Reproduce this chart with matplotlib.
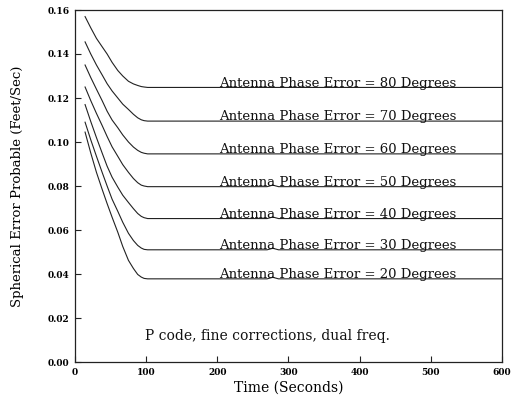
import numpy as np
import matplotlib
matplotlib.use('Agg')
from matplotlib import pyplot as plt

# phase error levels (degrees) and curve points
phase_err = [80, 70, 60, 50, 40, 30, 20]

t_pts = [14, 22, 30, 38, 45, 52, 60, 67, 75, 82, 88, 93, 97, 102, 270, 278, 286, 600]
sep = {
    80: [0.1570, 0.1519, 0.1471, 0.1433, 0.1400, 0.1362, 0.1325, 0.1300, 0.1276, 0.1264, 0.1257, 0.1252, 0.1250, 0.1248, 0.1248, 0.1248, 0.1248, 0.1248],
    70: [0.1455, 0.1400, 0.1350, 0.1305, 0.1265, 0.1232, 0.1200, 0.1172, 0.1148, 0.1126, 0.1110, 0.1101, 0.1097, 0.1095, 0.1095, 0.1095, 0.1095, 0.1095],
    60: [0.1350, 0.1293, 0.1240, 0.1188, 0.1140, 0.1100, 0.1065, 0.1032, 0.1000, 0.0977, 0.0962, 0.0953, 0.0949, 0.0946, 0.0946, 0.0946, 0.0946, 0.0946],
    50: [0.1250, 0.1188, 0.1130, 0.1075, 0.1025, 0.0978, 0.0935, 0.0897, 0.0862, 0.0834, 0.0815, 0.0804, 0.0800, 0.0797, 0.0797, 0.0804, 0.0797, 0.0797],
    40: [0.1170, 0.1093, 0.1020, 0.0950, 0.0890, 0.0840, 0.0795, 0.0758, 0.0725, 0.0697, 0.0675, 0.0662, 0.0656, 0.0652, 0.0652, 0.0659, 0.0652, 0.0652],
    30: [0.1090, 0.1010, 0.0935, 0.0862, 0.0800, 0.0740, 0.0685, 0.0635, 0.0585, 0.0552, 0.0530, 0.0518, 0.0512, 0.0510, 0.0510, 0.0517, 0.0510, 0.0510],
    20: [0.1045, 0.0950, 0.0862, 0.0785, 0.0720, 0.0658, 0.0590, 0.0525, 0.0462, 0.0425, 0.0398, 0.0386, 0.0380, 0.0378, 0.0378, 0.0385, 0.0378, 0.0378],
}

xticks = [0, 100, 200, 300, 400, 500, 600]
yticks = [0.00, 0.02, 0.04, 0.06, 0.08, 0.10, 0.12, 0.14, 0.16]

serif = ['DejaVu Serif']

fig = plt.figure(figsize=(5.11, 4.0), dpi=100)
ax = fig.add_axes([0.147, 0.095, 0.835, 0.88])

for pe in phase_err:
    ax.plot(t_pts, sep[pe], color='#222222', lw=0.8)
    ax.text(369, sep[pe][-1] + 0.0004, 'Antenna Phase Error = %d Degrees' % pe,
            ha='center', va='baseline', fontsize=9.5, family=serif, color='#111111')

ax.text(98, 0.0118, 'P code, fine corrections, dual freq.', fontsize=10,
        family=serif, color='#111111', va='center')

ax.set_xlim(0, 600)
ax.set_ylim(0, 0.16)
ax.set_xticks(xticks)
ax.set_yticks(yticks)
ax.set_xticklabels([str(v) for v in xticks], fontsize=6.5, family=serif, fontweight='bold')
ax.set_yticklabels(['%.2f' % v for v in yticks], fontsize=6.5, family=serif, fontweight='bold')
ax.tick_params(direction='in', length=4, width=0.8, color='#222222', pad=4)
ax.set_xlabel('Time (Seconds)', fontsize=10, family=serif, labelpad=3)
ax.set_ylabel('Spherical Error Probable (Feet/Sec)', fontsize=9.5, family=serif, labelpad=17)
for s in ax.spines.values():
    s.set_linewidth(0.9)
    s.set_color('#222222')

fig.savefig('out.png', dpi=100)
